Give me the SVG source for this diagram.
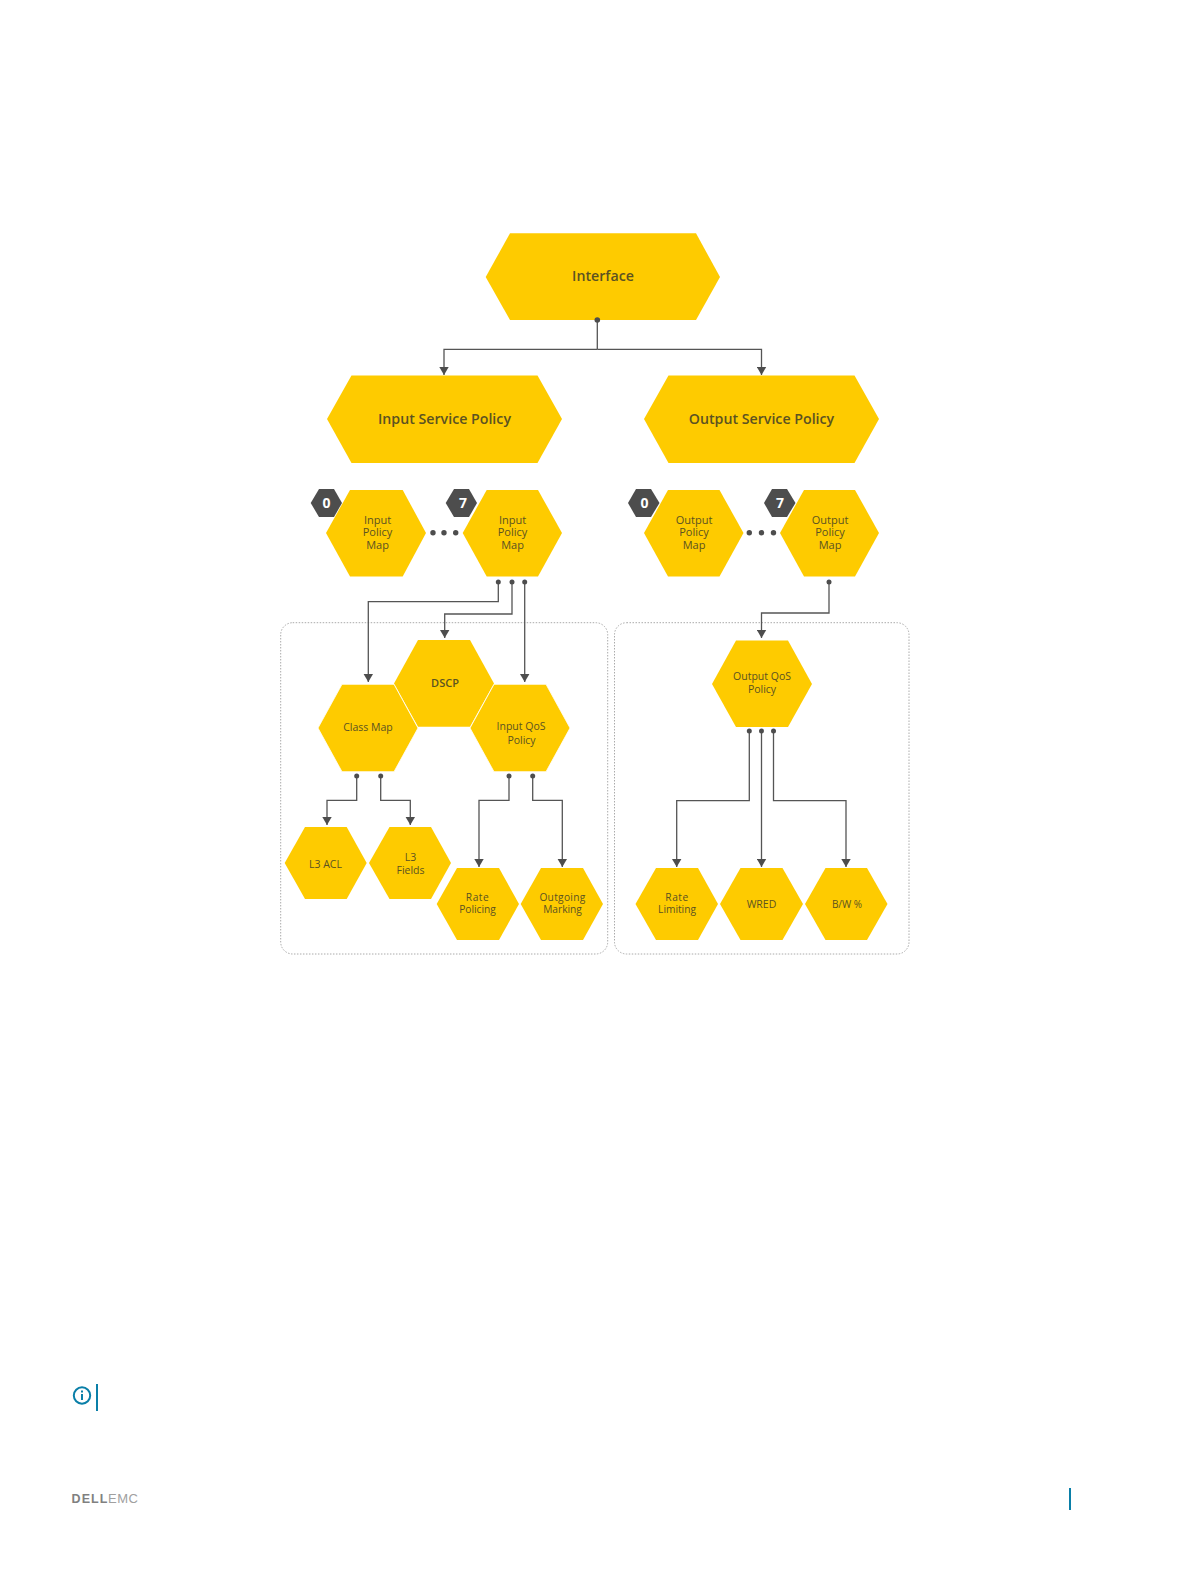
<svg xmlns="http://www.w3.org/2000/svg" width="1189" height="1581" viewBox="0 0 1189 1581">
<style>
.hex{fill:#fecb00}
.t{font-family:"Open Sans","Noto Sans",sans-serif;fill:#5b5222;text-anchor:middle}
.xl{font-size:14.200px;font-weight:600}
.m{font-size:11px}
.b{font-size:14px;font-weight:700;fill:#fff;font-family:"Open Sans",sans-serif;text-anchor:middle}
.c{fill:none;stroke:#555;stroke-width:1.3}
.d{fill:#4d4d4d}
.box{fill:none;stroke:#aaa;stroke-width:1;stroke-dasharray:1.5 1.5}
</style>
<defs>
<marker id="a" viewBox="0 0 8.500 10" refX="8.500" refY="5" markerUnits="userSpaceOnUse" markerWidth="8.500" markerHeight="10" orient="auto"><path d="M0 0L8.500 5L0 10Z" fill="#4d4d4d"/></marker>
</defs>
<rect width="1189" height="1581" fill="#fff"/>
<g id="groups">
<rect class="box" x="280.700" y="622.700" width="327" height="331.300" rx="12"/>
<rect class="box" x="614.500" y="622.700" width="294.500" height="331.300" rx="12"/>
</g>
<g id="n-interface"><polygon class="hex" points="485.700,277 510,233.300 696,233.300 720,277 696,320 510,320"/><text class="t xl" x="603" y="281">Interface</text></g>
<g id="n-input-service"><polygon class="hex" points="327,419 351.500,375.500 537.500,375.500 562,419 537.500,463 351.500,463"/><text class="t xl" x="444.500" y="424">Input Service Policy</text></g>
<g id="n-output-service"><polygon class="hex" points="644,419 668.500,375.500 854.500,375.500 879,419 854.500,463 668.500,463"/><text class="t xl" x="761.500" y="424">Output Service Policy</text></g>
<g id="n-ipm0"><polygon class="hex" points="326,533 350,490 402.700,490 426,533 402.700,576.500 350,576.500"/><text class="t m"><tspan x="377.500" y="524">Input</tspan><tspan x="377.500" y="536">Policy</tspan><tspan x="377.500" y="549">Map</tspan></text></g>
<g id="n-ipm7"><polygon class="hex" points="462.700,533 486.700,490 538,490 562,533 538,576.500 486.700,576.500"/><text class="t m"><tspan x="512.500" y="524">Input</tspan><tspan x="512.500" y="536">Policy</tspan><tspan x="512.500" y="549">Map</tspan></text></g>
<g id="n-opm0"><polygon class="hex" points="644,533 668,490 719.500,490 743.500,533 719.500,576.500 668,576.500"/><text class="t m"><tspan x="694" y="524">Output</tspan><tspan x="694" y="536">Policy</tspan><tspan x="694" y="549">Map</tspan></text></g>
<g id="n-opm7"><polygon class="hex" points="780,533 804,490 855,490 879,533 855,576.500 804,576.500"/><text class="t m"><tspan x="830" y="524">Output</tspan><tspan x="830" y="536">Policy</tspan><tspan x="830" y="549">Map</tspan></text></g>
<g id="badges">
<polygon class="d" points="310.700,503 319,489 334,489 342,503 334,517 319,517"/><text class="b" x="326.500" y="508">0</text>
<polygon class="d" points="445.700,503 454,489 469,489 477,503 469,517 454,517"/><text class="b" x="463" y="508">7</text>
<polygon class="d" points="628,503 636,489 651,489 659.500,503 651,517 636,517"/><text class="b" x="644.500" y="508">0</text>
<polygon class="d" points="764,503 772,489 787,489 795.500,503 787,517 772,517"/><text class="b" x="780" y="508">7</text>
</g>
<g id="ellipsis" class="d">
<circle cx="433" cy="532.700" r="2.700"/><circle cx="444" cy="532.700" r="2.700"/><circle cx="455.700" cy="532.700" r="2.700"/>
<circle cx="749.300" cy="532.700" r="2.700"/><circle cx="761.500" cy="532.700" r="2.700"/><circle cx="773.500" cy="532.700" r="2.700"/>
</g>
<g id="n-dscp"><polygon class="hex" points="394,683.500 418,640 470,640 494,683.500 470,726.700 418,726.700"/><text class="t m" x="445" y="686.500" font-weight="600">DSCP</text></g>
<g id="n-classmap"><polygon class="hex" points="318,728 342,684.300 394,684.300 418,728 394,771.700 342,771.700" stroke="#fff" stroke-width="0.800"/><text class="t" font-size="10.500" x="368" y="730.500">Class Map</text></g>
<g id="n-inputqos"><polygon class="hex" points="470,728 494,684.300 546,684.300 570,728 546,771.700 494,771.700" stroke="#fff" stroke-width="0.800"/><text class="t" font-size="10.500"><tspan x="521" y="730">Input QoS</tspan><tspan x="521.500" y="744">Policy</tspan></text></g>
<g id="n-outputqos"><polygon class="hex" points="712,684 736,640.500 788,640.500 812,684 788,727 736,727"/><text class="t" font-size="10.500"><tspan x="762" y="680">Output QoS</tspan><tspan x="762" y="693">Policy</tspan></text></g>
<g id="n-l3acl"><polygon class="hex" points="284.700,863 305,827 346.700,827 366.700,863 346.700,899 305,899"/><text class="t" font-size="10.500" x="325.500" y="868">L3 ACL</text></g>
<g id="n-l3fields"><polygon class="hex" points="369,863 389.500,827 431,827 451,863 431,899 389.500,899"/><text class="t" font-size="10.500"><tspan x="410.500" y="861">L3</tspan><tspan x="410.500" y="874">Fields</tspan></text></g>
<g id="n-ratepol"><polygon class="hex" points="436.700,904 457,868 499,868 519,904 499,940 457,940"/><text class="t" font-size="10.200"><tspan x="477.500" y="900.500" letter-spacing="0.500">Rate</tspan><tspan x="477.500" y="913">Policing</tspan></text></g>
<g id="n-outmark"><polygon class="hex" points="520.700,904 541,868 583,868 603,904 583,940 541,940"/><text class="t" font-size="10.200"><tspan x="562.500" y="900.500" letter-spacing="0.300">Outgoing</tspan><tspan x="562.500" y="913">Marking</tspan></text></g>
<g id="n-ratelim"><polygon class="hex" points="635.500,904 656,868 698,868 718,904 698,940 656,940"/><text class="t" font-size="10.200"><tspan x="677" y="900.500" letter-spacing="0.500">Rate</tspan><tspan x="677" y="913">Limiting</tspan></text></g>
<g id="n-wred"><polygon class="hex" points="720,904 740.500,868 782.500,868 803,904 782.500,940 740.500,940"/><text class="t" font-size="10.500" x="761.500" y="908">WRED</text></g>
<g id="n-bw"><polygon class="hex" points="805,904 825.500,868 867,868 887.500,904 867,940 825.500,940"/><text class="t" font-size="10" x="847" y="907.500">B/W %</text></g>
<g id="connectors">
<path class="c" d="M597.300 320V349.300"/>
<path class="c" d="M597.300 349.300H444V375" marker-end="url(#a)"/>
<path class="c" d="M597.300 349.300H761.500V375" marker-end="url(#a)"/>
<path class="c" d="M498.300 582V601.700H368.300V682" marker-end="url(#a)"/>
<path class="c" d="M512 582V614H444.700V638" marker-end="url(#a)"/>
<path class="c" d="M524.700 582V682" marker-end="url(#a)"/>
<path class="c" d="M829 582V613H761.500V638" marker-end="url(#a)"/>
<path class="c" d="M356.700 776V800.300H327V825" marker-end="url(#a)"/>
<path class="c" d="M380.700 776V800.300H410.300V825" marker-end="url(#a)"/>
<path class="c" d="M509 776V800.300H479V867" marker-end="url(#a)"/>
<path class="c" d="M532.700 776V800.300H562.300V867" marker-end="url(#a)"/>
<path class="c" d="M749.300 731V800.700H676.700V867" marker-end="url(#a)"/>
<path class="c" d="M761.500 731V867" marker-end="url(#a)"/>
<path class="c" d="M773.500 731V800.700H846V867" marker-end="url(#a)"/>
<g class="d">
<circle cx="597.300" cy="320" r="2.800"/>
<circle cx="498.300" cy="582" r="2.500"/><circle cx="512" cy="582" r="2.500"/><circle cx="524.700" cy="582" r="2.500"/>
<circle cx="829" cy="582" r="2.500"/>
<circle cx="356.700" cy="776" r="2.500"/><circle cx="380.700" cy="776" r="2.500"/><circle cx="509" cy="776" r="2.500"/><circle cx="532.700" cy="776" r="2.500"/>
<circle cx="749.300" cy="731" r="2.500"/><circle cx="761.500" cy="731" r="2.500"/><circle cx="773.500" cy="731" r="2.500"/>
</g>
</g>
<g id="note">
<circle cx="82" cy="1395.500" r="8.200" fill="none" stroke="#0a7fa8" stroke-width="2"/>
<rect x="81" y="1394" width="2" height="6" fill="#0a7fa8"/><rect x="81" y="1390.500" width="2" height="2" fill="#0a7fa8"/>
<rect x="96" y="1384" width="2" height="27" fill="#0a7fa8"/>
</g>
<g id="footer">
<text x="71.500" y="1503" font-family="'Liberation Sans',sans-serif" font-size="12.500" font-weight="700" fill="#808080" textLength="36">DELL</text>
<text x="108" y="1503" font-family="'Liberation Sans',sans-serif" font-size="13" fill="#a0a0a0" textLength="30">EMC</text>
<rect x="1069" y="1488" width="2" height="22" fill="#0a7fa8"/>
</g>
</svg>
